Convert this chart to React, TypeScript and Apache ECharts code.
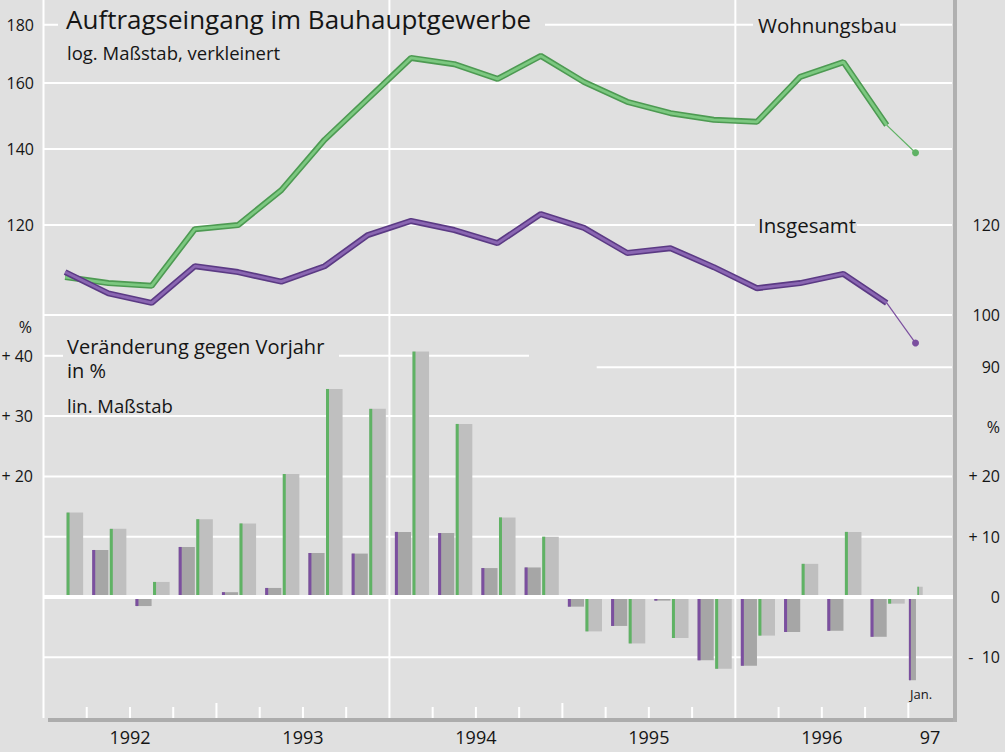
import React, { useEffect, useRef } from 'react';
import * as echarts from 'echarts';

// ---- data ----
const periods = [
  '1992 I', '1992 II', '1992 III', '1992 IV',
  '1993 I', '1993 II', '1993 III', '1993 IV',
  '1994 I', '1994 II', '1994 III', '1994 IV',
  '1995 I', '1995 II', '1995 III', '1995 IV',
  '1996 I', '1996 II', '1996 III', '1996 IV',
  'Jan. 1997',
];
const wohnungsbauIndex = [108.0, 106.7, 106.1, 119.0, 120.0, 128.8, 142.6, 154.9, 168.3, 166.2, 161.3, 169.0, 160.3, 154.0, 150.5, 148.5, 147.9, 162.0, 166.9, 146.9, 138.9];
const insgesamtIndex = [109.1, 104.5, 102.5, 110.4, 109.1, 107.0, 110.4, 117.6, 121.0, 118.8, 115.7, 122.7, 119.3, 113.4, 114.5, 110.2, 105.6, 106.7, 108.7, 102.5, 94.5];
const wohnungsbauChange = [14.0, 11.3, 2.5, 12.9, 12.2, 20.4, 34.5, 31.2, 40.7, 28.7, 13.2, 10.0, -5.7, -7.7, -6.8, -11.9, -6.4, 5.5, 10.8, -1.1, 1.7];
const insgesamtChange: (number | null)[] = [null, 7.8, -1.5, 8.3, 0.8, 1.5, 7.3, 7.2, 10.8, 10.6, 4.8, 4.9, -1.6, -4.8, -0.6, -10.5, -11.4, -5.8, -5.6, -6.6, -13.8];

const yearLabels = ['1992', '1993', '1994', '1995', '1996', '97'];
const logTicksLeft = [180, 160, 140, 120];
const logTicksRight = [120, 100, 90];
const pctTicksLeft = [40, 30, 20];
const pctTicksRight = [20, 10, 0, -10];

// ---- layout / style constants ----
const FONT = '"Open Sans", "Noto Sans", sans-serif';
const BG = '#e0e0e0';
const GREEN = '#5fb264';
const PURPLE = '#7b4f9f';
const X_MAX = 63.1;
const NQ = 20;

const periodStart = (i: number) => (i < NQ ? i * 3 : 60);
const periodCenter = (i: number) => (i < NQ ? i * 3 + 1.5 : 60.5);

function pctLabel(v: number) {
  if (v > 0) return '+ ' + v;
  if (v < 0) return '-  ' + Math.abs(v);
  return '0';
}

export default function App() {
  const ref = useRef<HTMLDivElement>(null);

  useEffect(() => {
    document.body.style.margin = '0';
    const chart = echarts.init(ref.current!, null, { renderer: 'svg' });

    const lineData = (arr: number[]) => arr.slice(0, NQ).map((v, i) => [periodCenter(i), v]);
    const tailData = (arr: number[]) => [[periodCenter(NQ - 1), arr[NQ - 1]], [periodCenter(NQ), arr[NQ]]];

    const barData: any[] = [];
    periods.forEach((_, i) => {
      if (insgesamtChange[i] != null) barData.push([i, 0, insgesamtChange[i]]);
      if (wohnungsbauChange[i] != null) barData.push([i, 1, wohnungsbauChange[i]]);
    });

    const renderBar = (params: any, api: any) => {
      const i = api.value(0);
      const kind = api.value(1);
      const v = api.value(2);
      const s = periodStart(i);
      let a: number, b: number, edge: number;
      if (i < NQ) {
        [a, b] = kind === 0 ? [0.38, 1.5] : [1.6, 2.75];
        edge = 3;
      } else {
        [a, b] = kind === 0 ? [0.04, 0.53] : [0.63, 1.0];
        edge = kind === 0 ? 2 : 1.5;
      }
      const p0 = api.coord([s + a, 0]);
      const p1 = api.coord([s + b, v]);
      const x = p0[0];
      const w = p1[0] - p0[0];
      const y = Math.min(p0[1], p1[1]);
      const h = Math.abs(p1[1] - p0[1]);
      return {
        type: 'group',
        children: [
          { type: 'rect', shape: { x, y, width: w, height: h }, style: { fill: kind === 0 ? '#a6a6a6' : '#bfbfbf' } },
          { type: 'rect', shape: { x, y, width: edge, height: h }, style: { fill: kind === 0 ? PURPLE : GREEN } },
        ],
      };
    };

    const lineSeries = (arr: number[], outer: string, inner: string, tail: string, z: number) => [
      {
        type: 'line', xAxisIndex: 0, yAxisIndex: 0, data: lineData(arr), showSymbol: false, z,
        lineStyle: { width: 6, color: outer }, silent: true,
      },
      {
        type: 'line', xAxisIndex: 0, yAxisIndex: 0, data: lineData(arr), showSymbol: false, z: z + 1,
        lineStyle: { width: 2.8, color: inner }, silent: true,
      },
      {
        type: 'line', xAxisIndex: 0, yAxisIndex: 0, data: tailData(arr), z: z + 1,
        showSymbol: true, symbol: 'circle',
        symbolSize: (_v: any, p: any) => (p.dataIndex === 1 ? 7 : 0),
        itemStyle: { color: tail }, lineStyle: { width: 1.2, color: tail }, silent: true,
      },
    ];

    chart.setOption({
      animation: false,
      backgroundColor: BG,
      grid: [
        { left: 43.5, width: 909.5, top: 0, height: 380 },
        { left: 43.5, width: 909.5, top: 343.74, height: 375.37 },
      ],
      xAxis: [
        { type: 'value', gridIndex: 0, min: 0, max: X_MAX, show: false },
        { type: 'value', gridIndex: 1, min: 0, max: X_MAX, show: false },
      ],
      yAxis: [
        { type: 'log', logBase: 10, gridIndex: 0, min: 87.69, max: 189.25, show: false },
        { type: 'value', gridIndex: 1, min: -20.25, max: 42, show: false },
      ],
      series: [
        ...lineSeries(wohnungsbauIndex, '#4d9a52', '#7cc880', GREEN, 3),
        ...lineSeries(insgesamtIndex, '#5b3a84', '#8a66b2', PURPLE, 6),
        {
          type: 'custom', xAxisIndex: 1, yAxisIndex: 1, data: barData,
          encode: { x: 0, y: 2 }, renderItem: renderBar, z: 3, silent: true,
        },
      ],
    });

    const px = (m: number) => chart.convertToPixel({ xAxisIndex: 1 } as any, m) as number;
    const pyT = (v: number) => chart.convertToPixel({ yAxisIndex: 0 } as any, v) as number;
    const pyB = (v: number) => chart.convertToPixel({ yAxisIndex: 1 } as any, v) as number;

    const xL = px(0);
    const xR = 952;
    const els: any[] = [];
    const hline = (x1: number, x2: number, y: number, w = 2, z = 0) =>
      els.push({ type: 'line', z, shape: { x1, y1: y, x2, y2: y }, style: { stroke: '#ffffff', lineWidth: w } });
    const text = (t: string, x: number, y: number, size: number, align = 'left', extra: any = {}) =>
      els.push({
        type: 'text', z: 5,
        style: {
          text: t, x, y, font: `${size}px ${FONT}`, fill: '#151515',
          textAlign: align, align, textVerticalAlign: 'middle', verticalAlign: 'middle', ...extra,
        },
      });

    // gridlines (top, log scale)
    hline(xL, 58, pyT(180));
    hline(545, 753, pyT(180));
    hline(900, xR, pyT(180));
    hline(xL, xR, pyT(160));
    hline(xL, xR, pyT(140));
    hline(xL, 755, pyT(120));
    hline(857, xR, pyT(120));
    hline(xL, xR, pyT(100));
    hline(596.7, xR, pyT(90));
    // gridlines (bottom, linear)
    hline(xL, 63, pyB(40));
    hline(339, 529, pyB(40));
    hline(xL, xR, pyB(30));
    hline(xL, xR, pyB(20));
    hline(xL, xR, pyB(10));
    hline(xL, xR, pyB(-10));
    hline(xL, 955, pyB(0), 4, 10);

    // vertical lines every two years
    [0, 24, 48].forEach((m) => {
      const x = px(m);
      els.push({ type: 'line', z: 0, shape: { x1: x, y1: 0, x2: x, y2: 718 }, style: { stroke: '#ffffff', lineWidth: 2 } });
    });
    // quarter ticks
    for (let m = 3; m <= 60; m += 3) {
      if (m === 24 || m === 48) continue;
      const x = px(m);
      const top = m % 12 === 0 ? 703 : 707;
      els.push({ type: 'line', z: 0, shape: { x1: x, y1: top, x2: x, y2: 718 }, style: { stroke: '#ffffff', lineWidth: 2 } });
    }
    // frame
    els.push({ type: 'line', z: 11, shape: { x1: 48, y1: 720, x2: 957, y2: 720 }, style: { stroke: '#acacac', lineWidth: 4 } });
    els.push({ type: 'line', z: 11, shape: { x1: 955, y1: 0, x2: 955, y2: 722 }, style: { stroke: '#b0b0b0', lineWidth: 4 } });

    // titles
    text('Auftragseingang im Bauhauptgewerbe', 66, 19, 26);
    text('log. Maßstab, verkleinert', 67, 52, 18.5);
    text('Wohnungsbau', 758, pyT(180), 20.5);
    text('Insgesamt', 758, pyT(120), 20.5);
    text('Veränderung gegen Vorjahr', 67, 346, 20);
    text('in %', 67, 370.5, 20);
    text('lin. Maßstab', 67, 405, 18.5);
    text('Jan.', 921, 694, 13, 'center');

    // axis labels
    logTicksLeft.forEach((v) => text(String(v), 34, pyT(v), 16, 'right'));
    logTicksRight.forEach((v) => text(String(v), 1000, pyT(v), 16, 'right'));
    text('%', 32, 327, 16, 'right');
    pctTicksLeft.forEach((v) => text(pctLabel(v), 33, pyB(v), 16, 'right'));
    text('%', 1000, 427, 16, 'right');
    pctTicksRight.forEach((v) => text(pctLabel(v), 1000, pyB(v), 16, 'right'));

    // year labels
    yearLabels.forEach((t, k) => {
      const m = k < 5 ? k * 12 + 6 : 61.5;
      text(t, px(m), 737, 18, 'center');
    });

    chart.setOption({ graphic: { elements: els } });

    return () => chart.dispose();
  }, []);

  return <div ref={ref} style={{ position: 'absolute', left: 0, top: 0, width: 1005, height: 752 }} />;
}
